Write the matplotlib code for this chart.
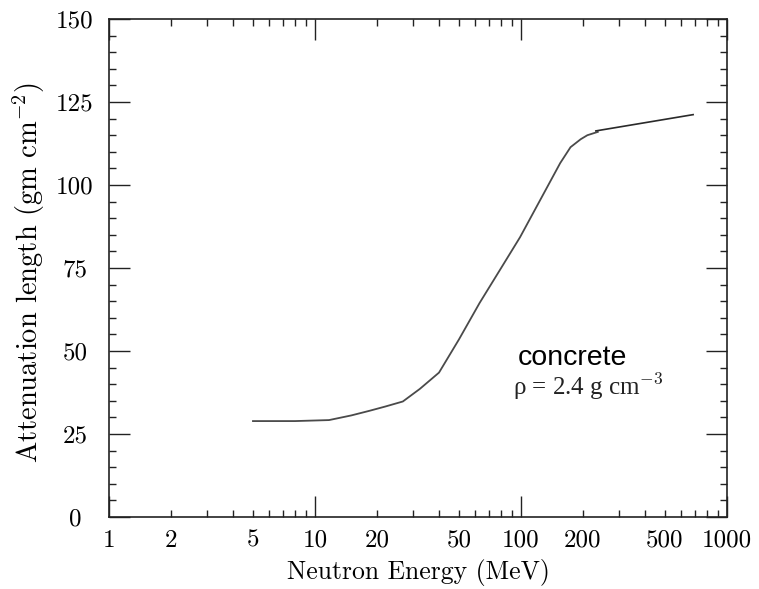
import numpy as np
import matplotlib
matplotlib.use("Agg")
import matplotlib.pyplot as plt
from matplotlib.ticker import MultipleLocator

plt.rcParams['font.family'] = ['cmr10', 'DejaVu Serif']
plt.rcParams['mathtext.fontset'] = 'cm'
plt.rcParams['axes.unicode_minus'] = False

# attenuation length of neutrons in concrete
energy = [5, 8, 11.7, 15, 18.4, 22, 26.7, 32.3, 40, 50, 63, 79, 99, 124, 155, 174, 195, 210, 236]
atten = [28.9, 28.9, 29.2, 30.6, 32.0, 33.3, 34.8, 38.6, 43.5, 53.5, 64.5, 74.4, 84.3, 95.5, 106.6, 111.4, 113.8, 115.0, 116.0]

# high energy extension
energy_hi = [231, 685]
atten_hi = [116.3, 121.2]

major_x = [1, 10, 100, 1000]
major_x_labels = ['1', '10', '100', '1000']
minor_x = [m * d for d in (1, 10, 100) for m in range(2, 10)]
minor_x_labels = [str(v) if str(v)[0] in '25' else '' for v in minor_x]

W, H = 759, 589
fig = plt.figure(figsize=(W / 100, H / 100), dpi=100)
ax = fig.add_axes([0.1436, 0.1222, 0.8142, 0.8455])

ax.plot(energy, atten, color='#4a4a4a', lw=1.3)
ax.plot(energy_hi, atten_hi, color='#2a2a2a', lw=1.2)

ax.set_xscale('log')
ax.set_xlim(1, 1000)
ax.set_ylim(0, 150)

ax.set_xticks(major_x, major_x_labels)
ax.set_xticks(minor_x, minor_x_labels, minor=True)
ax.yaxis.set_major_locator(MultipleLocator(25))
ax.yaxis.set_minor_locator(MultipleLocator(5))

ax.tick_params(which='both', direction='in', top=True, right=True, width=1.0, color='#222')
ax.tick_params(which='major', length=15)
ax.tick_params(which='minor', length=5)
ax.tick_params(axis='x', which='both', pad=9, labelsize=18)
ax.tick_params(axis='y', which='major', pad=24.5, labelsize=18)
for lab in ax.get_yticklabels():
    lab.set_horizontalalignment('center')

for s in ax.spines.values():
    s.set_linewidth(1.2)
    s.set_color('#222')

ax.set_xlabel('Neutron Energy (MeV)', fontsize=18.5)
ax.set_ylabel(r'Attenuation length (gm cm$^{-2}$)', fontsize=20.5)
ax.xaxis.set_label_coords(0.5, -0.084)
ax.yaxis.set_label_coords(-0.100, 0.49)

fig.text(518 / W, 1 - 365 / H, 'concrete', fontsize=20.5,
         family='Liberation Sans', va='baseline')
fig.text(513 / W, 1 - 395 / H, 'ρ = 2.4 g cm$^{-3}$', fontsize=18, va='baseline',
         family='Liberation Serif', color='#222')

fig.savefig('out.png', dpi=100)
